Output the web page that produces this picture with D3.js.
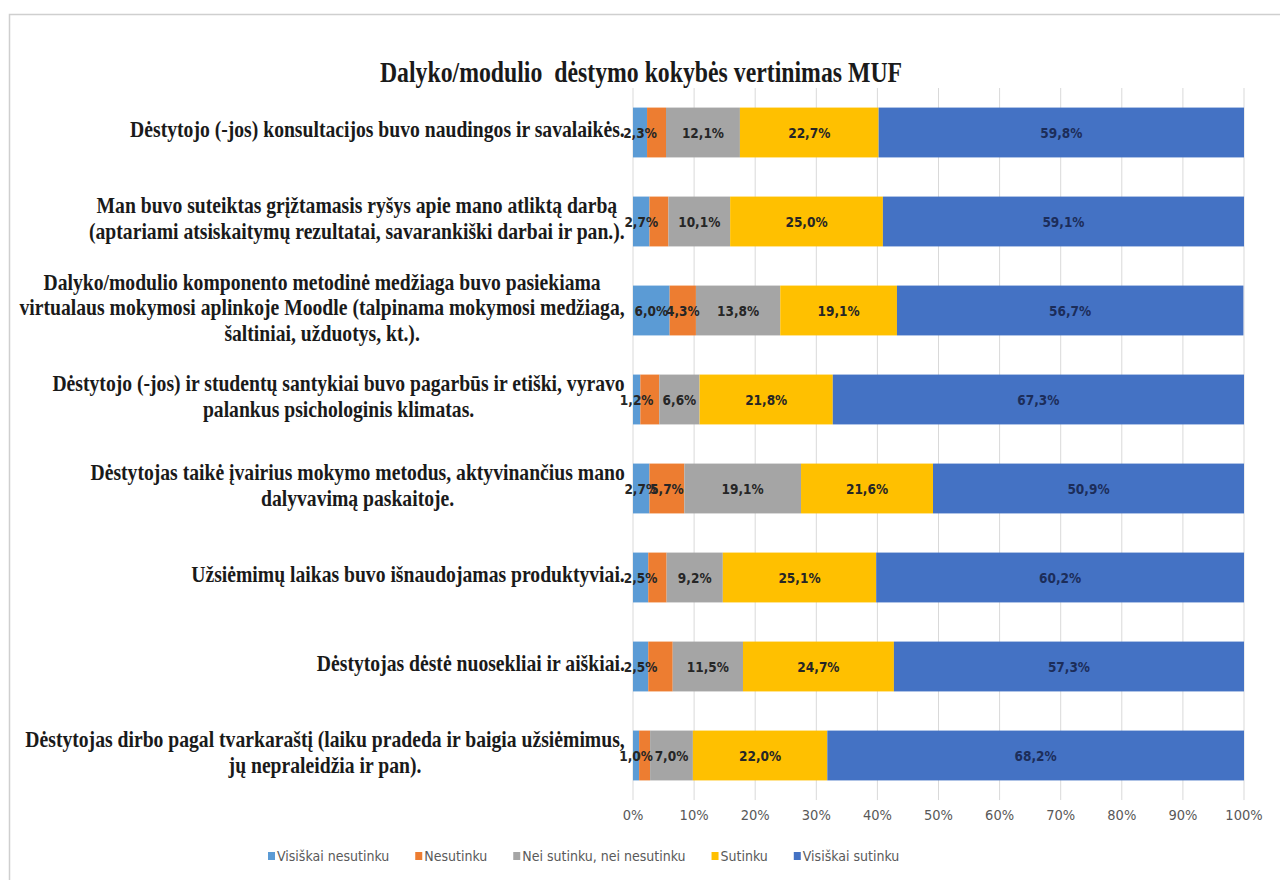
<!DOCTYPE html>
<html>
<head>
<meta charset="utf-8">
<script src="https://cdn.jsdelivr.net/npm/d3@7"></script>
<style>
  body { margin: 0; background: #fff; }
  svg { display: block; }
</style>
</head>
<body>
<div id="chart"></div>
<script>
// klausimai (kategorijos), eilutes suskaidytos kaip paveiksle
const klausimai = [
  ["Dėstytojo (-jos) konsultacijos buvo naudingos ir savalaikės."],
  ["Man buvo suteiktas grįžtamasis ryšys apie mano atliktą darbą",
   "(aptariami atsiskaitymų rezultatai, savarankiški darbai ir pan.)."],
  ["Dalyko/modulio komponento metodinė medžiaga buvo pasiekiama",
   "virtualaus mokymosi aplinkoje Moodle (talpinama mokymosi medžiaga,",
   "šaltiniai, užduotys, kt.)."],
  ["Dėstytojo (-jos) ir studentų santykiai buvo pagarbūs ir etiški, vyravo",
   "palankus psichologinis klimatas."],
  ["Dėstytojas taikė įvairius mokymo metodus, aktyvinančius mano",
   "dalyvavimą paskaitoje."],
  ["Užsiėmimų laikas buvo išnaudojamas produktyviai."],
  ["Dėstytojas dėstė nuosekliai ir aiškiai."],
  ["Dėstytojas dirbo pagal tvarkaraštį (laiku pradeda ir baigia užsiėmimus,",
   "jų nepraleidžia ir pan)."]
];

const serijos = ["Visiškai nesutinku", "Nesutinku", "Nei sutinku, nei nesutinku", "Sutinku", "Visiškai sutinku"];
const spalvos = ["#5b9bd5", "#ed7d31", "#a5a5a5", "#ffc000", "#4472c4"];

// procentai
const visiskaiNesutinku = [2.3, 2.7, 6.0, 1.2, 2.7, 2.5, 2.5, 1.0];
const nesutinku         = [3.1, 3.1, 4.3, 3.1, 5.7, 3.0, 4.0, 1.8];
const neiSutinku        = [12.1, 10.1, 13.8, 6.6, 19.1, 9.2, 11.5, 7.0];
const sutinku           = [22.7, 25.0, 19.1, 21.8, 21.6, 25.1, 24.7, 22.0];
const visiskaiSutinku   = [59.8, 59.1, 56.7, 67.3, 50.9, 60.2, 57.3, 68.2];

// kurios "Nesutinku" etiketes matomos paveiksle
const nesutinkuEtiketes = [false, false, true, false, true, false, false, false];

const asiesZymes = [0, 10, 20, 30, 40, 50, 60, 70, 80, 90, 100];

const reiksmes = [visiskaiNesutinku, nesutinku, neiSutinku, sutinku, visiskaiSutinku];

const width = 1280, height = 880;
const margin = { left: 633, right: 36, top: 88, bottom: 80 };
const sansFont = "'DejaVu Sans Condensed', 'Liberation Sans', sans-serif";
const serifFont = "'Liberation Serif', 'Times New Roman', serif";

const svg = d3.select("#chart").append("svg")
  .attr("width", width)
  .attr("height", height);

// remelis
svg.append("rect")
  .attr("x", 9.5).attr("y", 14.5)
  .attr("width", width).attr("height", height)
  .attr("fill", "#fff")
  .attr("stroke", "#cfcfcf")
  .attr("stroke-width", 1.5);

const x = d3.scaleLinear()
  .domain([0, 100])
  .range([margin.left, width - margin.right]);

const y = d3.scaleBand()
  .domain(d3.range(klausimai.length))
  .range([margin.top, height - margin.bottom])
  .paddingInner(0.44)
  .paddingOuter(0.22);

// pavadinimas
svg.append("g")
  .attr("transform", "translate(641,82) scale(0.82,1)")
  .append("text")
  .attr("text-anchor", "middle")
  .style("font-family", serifFont)
  .style("font-weight", "bold")
  .style("font-size", "29px")
  .style("white-space", "pre")
  .attr("fill", "#1a1a1a")
  .text("Dalyko/modulio  dėstymo kokybės vertinimas MUF");

// tinklelis
svg.append("g")
  .selectAll("line")
  .data(asiesZymes)
  .join("line")
  .attr("x1", d => x(d)).attr("x2", d => x(d))
  .attr("y1", margin.top).attr("y2", height - margin.bottom)
  .attr("stroke", "#d9d9d9")
  .attr("stroke-width", 1);

// x asis
svg.append("g")
  .selectAll("text")
  .data(asiesZymes)
  .join("text")
  .attr("x", d => x(d))
  .attr("y", height - margin.bottom + 16)
  .attr("text-anchor", "middle")
  .attr("dominant-baseline", "middle")
  .style("font-family", sansFont)
  .style("font-size", "14.5px")
  .attr("fill", "#595959")
  .text(d => d + "%");

// sukrauti duomenys
const stack = klausimai.map((k, i) => {
  let sum = 0;
  return reiksmes.map((arr, s) => {
    const seg = { row: i, s: s, v: arr[i], x0: sum, x1: sum + arr[i] };
    sum += arr[i];
    return seg;
  });
});

const rows = svg.append("g")
  .selectAll("g")
  .data(stack)
  .join("g");

rows.selectAll("rect")
  .data(d => d)
  .join("rect")
  .attr("x", d => x(d.x0))
  .attr("width", d => x(d.x1) - x(d.x0))
  .attr("y", d => y(d.row))
  .attr("height", y.bandwidth())
  .attr("fill", d => spalvos[d.s]);

rows.selectAll("text")
  .data(d => d.filter(seg => seg.s !== 1 || nesutinkuEtiketes[seg.row]))
  .join("text")
  .attr("x", d => x((d.x0 + d.x1) / 2))
  .attr("y", d => y(d.row) + y.bandwidth() / 2)
  .attr("text-anchor", "middle")
  .attr("dominant-baseline", "central")
  .style("font-family", sansFont)
  .style("font-weight", "bold")
  .style("font-size", "13.5px")
  .attr("fill", d => d.s === 4 ? "#1c2d5a" : "#262626")
  .text(d => d.v.toFixed(1).replace(".", ",") + "%");

// kategoriju etiketes (centruotos bloke, blokas prie asies)
const catSx = 0.855;
const lineH = 25.5;
const labelRight = 625;
klausimai.forEach((lines, i) => {
  const g = svg.append("g");
  const cy = y(i) + y.bandwidth() / 2 - 3;
  const texts = lines.map((ln, j) => g.append("text")
    .attr("text-anchor", "middle")
    .attr("dominant-baseline", "central")
    .attr("y", (j - (lines.length - 1) / 2) * lineH)
    .style("font-family", serifFont)
    .style("font-weight", "bold")
    .style("font-size", "23px")
    .attr("fill", "#1a1a1a")
    .text(ln));
  const maxW = d3.max(texts, t => t.node().getComputedTextLength()) * catSx;
  g.attr("transform", `translate(${labelRight - maxW / 2},${cy}) scale(${catSx},1)`);
});

// legenda
const legend = svg.append("g");
let lx = 268;
const ly = 856;
serijos.forEach((name, i) => {
  legend.append("rect")
    .attr("x", lx).attr("y", ly - 4)
    .attr("width", 7).attr("height", 8)
    .attr("fill", spalvos[i]);
  const t = legend.append("text")
    .attr("x", lx + 9)
    .attr("y", ly)
    .attr("dominant-baseline", "central")
    .style("font-family", sansFont)
    .style("font-size", "14px")
    .attr("fill", "#595959")
    .text(name);
  lx += 9 + t.node().getComputedTextLength() + 26;
});
</script>
</body>
</html>
